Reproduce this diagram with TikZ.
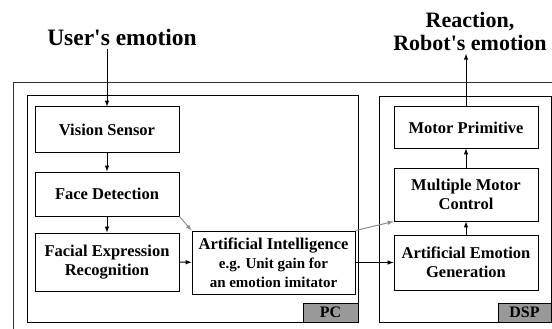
\documentclass[tikz,border=0pt]{standalone}
\usepackage{fontspec}
\setmainfont{Liberation Serif}
\usepackage{xcolor}
\usepackage{tikz}
\usetikzlibrary{shapes.geometric, arrows, positioning}

\begin{document}
\begin{tikzpicture}[x=1pt, y=-1pt,
  block/.style={draw, line width=1pt, minimum width=144pt, align=center, inner sep=0pt, font=\bfseries\fontsize{16.5}{19}\selectfont},
  tag/.style={draw, line width=1pt, fill=black!40, inner sep=0pt, minimum height=19pt, font=\bfseries\fontsize{16}{18}\selectfont},
  title/.style={align=center, font=\bfseries\fontsize{22}{23}\selectfont},
  flow/.style={-latex, line width=1pt},
  link/.style={-latex, line width=1pt, black!45}]
\useasboundingbox (0,0) rectangle (552,329);

% Frames
\draw[line width=1pt, black!80] (13,329) -- (13,83) -- (552,83);
\draw[line width=1pt] (27,96) rectangle (358,322);
\draw[line width=1pt] (379,97) rectangle (551,322);
\node[tag, minimum width=55pt] (pc) at (330.5,312.5) {PC};
\node[tag, minimum width=53pt] (dsp) at (524.5,312.5) {DSP};

% Inputs and outputs
\node[title, font=\bfseries\fontsize{23.5}{24}\selectfont] (user) at (122,37) {User\textquotesingle s emotion};
\node[title] (reaction) at (470,31) {Reaction,\\Robot\textquotesingle s emotion};

% PC side
\node[block, minimum height=45pt] (vision) at (107,129.5) {Vision Sensor};
\node[block, minimum height=44pt] (face) at (107,194) {Face Detection};
\node[block, minimum height=58pt] (fer) at (107,262) {Facial Expression\\Recognition};
\node[block, minimum width=163pt, minimum height=63pt] (ai) at (273.5,262.5)
    {Artificial Intelligence\\{\fontsize{15}{18.5}\selectfont e.g. Unit gain for}\\{\fontsize{15}{18.5}\selectfont an emotion imitator}};

% DSP side
\node[block, minimum height=41pt] (motor) at (466,127.5) {Motor Primitive};
\node[block, minimum height=53pt] (multi) at (466,194.5) {Multiple Motor\\Control};
\node[block, minimum height=55pt] (emogen) at (466,262.5) {Artificial Emotion\\Generation};

% Arrows
\draw[flow] (user.south -| vision.north) -- (vision.north);
\draw[flow] (vision) -- (face);
\draw[flow] (face) -- (fer);
\draw[flow] (fer) -- (ai);
\draw[flow] (ai) -- (emogen);
\draw[flow] (emogen) -- (multi);
\draw[flow] (multi) -- (motor);
\draw[flow] (motor.north) -- (reaction.south -| motor.north);
\draw[link] (face.south east) -- (ai.north west);
\draw[link] (ai.north east) -- (multi.south west);
\end{tikzpicture}
\end{document}
